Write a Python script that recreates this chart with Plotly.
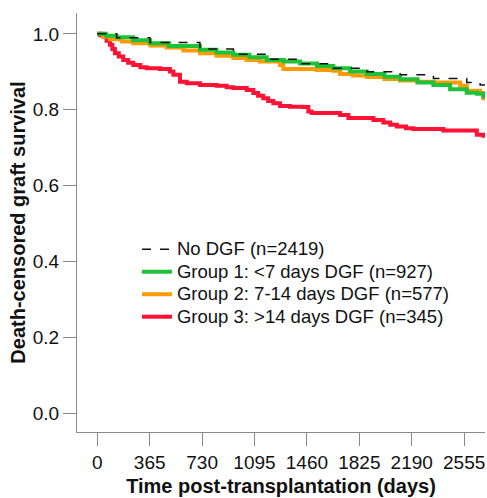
import plotly.graph_objects as go

# Data (days, survival)
nodgf_days = [0, 135, 367, 715, 948, 1180, 1412, 1644, 1877, 2109, 2341, 2573, 2666, 2700]
nodgf_surv = [1.0, 0.99, 0.977, 0.960, 0.946, 0.933, 0.921, 0.909, 0.900, 0.892, 0.882, 0.872, 0.865, 0.865]

g1_days = [0, 60, 135, 250, 367, 500, 715, 830, 948, 1060, 1180, 1300, 1412, 1530, 1644, 1760, 1877, 2000, 2109, 2230, 2341, 2457, 2573, 2643, 2689, 2700]
g1_surv = [1.0, 0.995, 0.991, 0.983, 0.975, 0.968, 0.958, 0.951, 0.945, 0.938, 0.931, 0.927, 0.922, 0.915, 0.909, 0.901, 0.894, 0.887, 0.880, 0.872, 0.865, 0.854, 0.845, 0.842, 0.835, 0.835]

g2_days = [0, 40, 88, 170, 251, 370, 483, 600, 715, 830, 948, 1040, 1133, 1273, 1296, 1528, 1644, 1691, 1780, 1877, 2000, 2109, 2230, 2341, 2527, 2573, 2666, 2689, 2700]
g2_surv = [1.0, 0.993, 0.986, 0.980, 0.975, 0.969, 0.964, 0.956, 0.949, 0.942, 0.936, 0.931, 0.927, 0.918, 0.907, 0.905, 0.903, 0.894, 0.890, 0.886, 0.881, 0.877, 0.874, 0.872, 0.863, 0.850, 0.844, 0.830, 0.830]

g3_days = [0, 20, 42, 65, 88, 105, 123, 150, 181, 215, 251, 300, 344, 437, 506, 530, 576, 623, 715, 832, 901, 948, 1041, 1087, 1120, 1156, 1190, 1226, 1273, 1342, 1435, 1470, 1493, 1691, 1749, 1923, 1992, 2040, 2086, 2150, 2201, 2410, 2619, 2643, 2689, 2700]
g3_surv = [1.0, 0.996, 0.993, 0.982, 0.971, 0.960, 0.949, 0.940, 0.931, 0.924, 0.918, 0.912, 0.909, 0.907, 0.901, 0.892, 0.874, 0.870, 0.865, 0.863, 0.859, 0.857, 0.852, 0.844, 0.837, 0.830, 0.823, 0.817, 0.810, 0.808, 0.807, 0.795, 0.791, 0.786, 0.778, 0.773, 0.766, 0.760, 0.756, 0.751, 0.749, 0.745, 0.745, 0.734, 0.731, 0.731]

names = ["No DGF (n=2419)", "Group 1: &lt;7 days DGF (n=927)",
         "Group 2: 7-14 days DGF (n=577)", "Group 3: &gt;14 days DGF (n=345)"]
x_ticks = [0, 365, 730, 1095, 1460, 1825, 2190, 2555]
y_ticks = [0.0, 0.2, 0.4, 0.6, 0.8, 1.0]

FONT = "Liberation Sans, Arial, sans-serif"


def big(t):
    return '<span style="font-size:18.5px">' + t + "</span>"


fig = go.Figure()
fig.add_trace(go.Scatter(x=g3_days, y=g3_surv, mode="lines", line_shape="hv",
                         line=dict(color="#ff1233", width=4), name=big(names[3]), legendrank=4))
fig.add_trace(go.Scatter(x=g2_days, y=g2_surv, mode="lines", line_shape="hv",
                         line=dict(color="#ff9a00", width=4), name=big(names[2]), legendrank=3))
fig.add_trace(go.Scatter(x=g1_days, y=g1_surv, mode="lines", line_shape="hv",
                         line=dict(color="#1ec23a", width=4), name=big(names[1]), legendrank=2))
fig.add_trace(go.Scatter(x=nodgf_days, y=nodgf_surv, mode="lines", line_shape="hv",
                         line=dict(color="#111111", width=1.5, dash="dash"), name=big(names[0]), legendrank=1))

axis_common = dict(showline=True, linecolor="#8a8a8a", linewidth=1, ticks="outside",
                   ticklen=13, tickcolor="#8a8a8a", tickwidth=1, showgrid=False, zeroline=False,
                   tickfont=dict(family=FONT, size=19, color="#111"))
fig.update_xaxes(range=[-141, 2700], tickvals=x_ticks,
                 title=dict(text="<b>Time post-transplantation (days)</b>",
                            font=dict(family=FONT, size=20, color="#111"), standoff=7),
                 **axis_common)
fig.update_yaxes(range=[-0.05, 1.055], tickvals=y_ticks, tickformat=".1f",
                 title=dict(text="<b>Death-censored graft survival</b>",
                            font=dict(family=FONT, size=20, color="#111"), standoff=1),
                 **axis_common)
fig.update_layout(
    width=487, height=498,
    margin=dict(l=77, r=2, t=13, b=66),
    plot_bgcolor="white", paper_bgcolor="white",
    font=dict(family=FONT, size=18, color="#111"),
    legend=dict(x=0.147, y=0.475, xanchor="left", yanchor="top",
                bgcolor="rgba(0,0,0,0)", font=dict(family=FONT, size=15, color="#111"),
                itemwidth=30, tracegroupgap=0),
)
fig.write_html("out.html", config={"displayModeBar": False},
               post_script="document.body.style.margin='0';document.body.style.overflow='hidden';")
